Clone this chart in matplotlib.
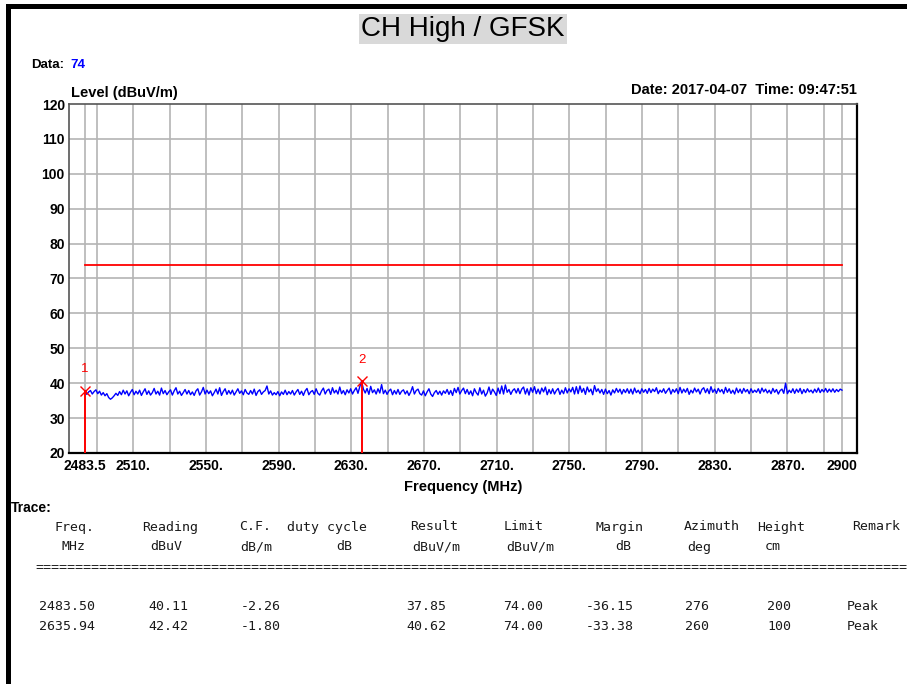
import numpy as np
import matplotlib
matplotlib.use("Agg")
import matplotlib.pyplot as plt
from matplotlib.patches import Rectangle

# --- chart data ---
level = [
    37.85, 36.8, 37.5, 37.9, 36.9, 37.6, 38.1, 37.0, 37.7, 36.6,
    37.3, 36.4, 37.0, 35.9, 35.4, 35.8, 36.4, 37.1, 36.5, 37.6,
    36.7, 38.0, 36.9, 37.8, 36.4, 37.4, 38.2, 36.7, 37.7, 36.9,
    38.0, 36.5, 37.5, 38.4, 36.8, 37.8, 36.6, 37.3, 38.5, 36.9,
    37.7, 36.6, 38.6, 37.0, 37.9, 36.7, 37.5, 38.1, 36.6, 37.8,
    38.7, 36.9, 37.7, 36.5, 37.3, 38.2, 36.9, 37.9, 36.7, 37.5,
    36.5, 37.8, 38.4, 36.6, 37.5, 38.8, 36.9, 38.0, 37.0, 37.8,
    36.4, 37.3, 38.3, 36.9, 38.7, 36.5, 37.6, 38.4, 36.8, 37.9,
    36.9, 38.0, 36.6, 37.5, 38.4, 37.1, 37.8, 36.7, 38.2, 37.2,
    36.8, 37.9, 36.9, 38.3, 36.5, 37.6, 38.1, 36.8, 37.5, 37.9,
    39.2, 36.9, 37.8, 36.6, 37.3, 36.7, 37.6, 36.4, 37.5, 36.8,
    38.0, 36.7, 37.6, 36.9, 37.9, 36.6, 37.5, 38.2, 36.8, 37.7,
    36.5, 37.8, 38.5, 36.7, 37.5, 37.9, 36.8, 38.4, 37.1, 36.6,
    37.8, 38.6, 36.9, 37.9, 38.3, 36.8, 38.7, 37.2, 38.0, 36.9,
    38.9, 37.0, 37.9, 36.7, 38.1, 37.2, 38.4, 36.9, 37.9, 38.7,
    37.1, 39.0, 40.6, 38.3, 37.2, 38.5, 36.8, 39.1, 37.3, 38.1,
    36.9, 38.4, 37.2, 39.6, 37.0, 38.0, 36.8, 37.8, 38.3, 36.7,
    37.9, 36.9, 38.2, 36.8, 37.7, 38.1, 36.9, 37.8, 36.5, 37.5,
    39.0, 36.9, 37.9, 38.3, 37.0, 36.6, 37.8, 36.4, 37.5, 38.4,
    36.9, 36.2, 37.3, 37.9, 36.8, 37.7, 36.6, 37.8, 37.1, 38.2,
    36.8, 37.9, 36.5, 38.5, 37.3, 38.8, 36.9, 37.9, 38.6, 37.0,
    38.2, 36.8, 37.8, 36.4, 38.4, 37.3, 36.6, 38.7, 36.9, 38.0,
    36.3, 37.2, 38.9, 36.8, 38.3, 37.5, 36.5, 38.6, 37.0, 39.2,
    36.9, 39.5, 37.4, 38.2, 36.8, 37.9, 38.4, 37.2, 38.5, 37.0,
    38.3, 38.9, 36.9, 38.4, 36.6, 38.7, 37.4, 39.0, 37.0, 38.3,
    36.9, 38.6, 37.5, 38.9, 36.7, 38.2, 37.0, 38.4, 36.9, 37.9,
    38.5, 36.8, 38.0, 37.0, 38.7, 37.2, 38.4, 37.5, 38.8, 36.9,
    39.0, 37.0, 39.2, 37.4, 38.5, 36.8, 38.9, 37.5, 38.3, 36.7,
    39.3, 37.6, 38.4, 37.2, 38.2, 36.8, 38.3, 37.0, 37.9, 36.6,
    38.1, 37.2, 38.5, 37.4, 38.3, 36.9, 38.2, 37.3, 38.4, 37.1,
    38.3, 36.9, 38.6, 37.3, 38.0, 37.0, 38.4, 37.4, 38.2, 37.1,
    38.5, 37.3, 38.3, 37.6, 38.7, 37.0, 38.0, 37.4, 38.4, 37.1,
    37.9, 38.6, 36.9, 38.2, 37.4, 38.4, 37.0, 38.8, 37.2, 38.3,
    37.4, 38.5, 36.8, 38.0, 37.2, 38.6, 37.5, 38.3, 36.9, 38.2,
    38.7, 37.3, 38.4, 37.0, 39.0, 37.4, 38.3, 37.1, 38.5, 37.5,
    38.2, 37.0, 38.8, 37.4, 38.4, 37.1, 38.0, 36.9, 38.6, 37.3,
    38.3, 37.1, 38.5, 37.5, 38.2, 37.0, 38.4, 37.3, 38.0, 37.4,
    38.4, 37.1, 38.6, 37.5, 38.3, 37.2, 38.0, 37.0, 38.5, 37.4,
    38.2, 36.9, 37.9, 38.3, 37.1, 40.0, 37.0, 38.0, 37.3, 38.4,
    37.1, 38.3, 37.4, 38.5, 37.0, 38.2, 37.3, 38.4, 37.5, 38.0,
    37.2, 38.3, 37.4, 38.6, 37.3, 38.2, 37.5, 38.5, 37.4, 38.3,
    37.5, 38.4, 37.4, 38.2, 37.6, 38.3, 38.0,
]
freq_start, freq_stop = 2483.5, 2900.0
freq = np.linspace(freq_start, freq_stop, len(level))

limit = 74.0
marker_freq = [2483.50, 2635.94]
marker_level = [37.85, 40.62]
marker_names = ["1", "2"]

xtick_pos = [2483.5, 2510, 2550, 2590, 2630, 2670, 2710, 2750, 2790, 2830, 2870, 2900]
xtick_lbl = ["2483.5", "2510.", "2550.", "2590.", "2630.", "2670.", "2710.",
             "2750.", "2790.", "2830.", "2870.", "2900"]
xgrid_pos = [2483.5, 2490] + list(range(2510, 2900, 20)) + [2900]
ytick_pos = list(range(20, 121, 10))

table_head1 = ["Freq.", "Reading", "C.F.", "duty cycle", "Result", "Limit",
               "Margin", "Azimuth", "Height", "Remark"]
table_head2 = ["MHz", "dBuV", "dB/m", "dB", "dBuV/m", "dBuV/m", "dB", "deg", "cm", ""]
table_rows = [
    ["2483.50", "40.11", "-2.26", "", "37.85", "74.00", "-36.15", "276", "200", "Peak"],
    ["2635.94", "42.42", "-1.80", "", "40.62", "74.00", "-33.38", "260", "100", "Peak"],
]

W, H = 907, 684


def px(x, y):
    """pixel position -> figure fraction"""
    return x / W, 1 - y / H


fig = plt.figure(figsize=(W / 100, H / 100), dpi=100)
fig.patch.set_facecolor("white")

# black page frame (left and top)
fig.add_artist(Rectangle(px(6, 684), 5 / W, 680 / H, transform=fig.transFigure,
                         color="black", lw=0))
fig.add_artist(Rectangle(px(6, 9), (W - 6) / W, 5 / H, transform=fig.transFigure,
                         color="black", lw=0))

# title with grey background
fig.text(*px(463, 29), "CH High / GFSK", ha="center", va="center",
         fontsize=20, family="Liberation Sans", color="black",
         bbox=dict(facecolor="#d9d9d9", edgecolor="none", pad=1.5))

bold = dict(family="Liberation Sans", fontweight="bold", color="black")
fig.text(*px(31, 65), "Data:", ha="left", va="center", fontsize=9.5, **bold)
fig.text(*px(70, 65), "74", ha="left", va="center", fontsize=9.5,
         family="Liberation Sans", fontweight="bold", color="#0000ff")
fig.text(*px(71, 93), "Level (dBuV/m)", ha="left", va="center", fontsize=10.5, **bold)
fig.text(*px(857, 90), "Date: 2017-04-07  Time: 09:47:51", ha="right", va="center",
         fontsize=10.5, **bold)
fig.text(*px(463, 487), "Frequency (MHz)", ha="center", va="center", fontsize=10.5, **bold)
fig.text(*px(11, 508), "Trace:", ha="left", va="center", fontsize=10, **bold)

# --- plot area ---
ax_l, ax_r, ax_t, ax_b = 69, 857, 104, 453
ax = fig.add_axes([ax_l / W, 1 - ax_b / H, (ax_r - ax_l) / W, (ax_b - ax_t) / H])
scale = (842 - 85) / (freq_stop - freq_start)
ax.set_xlim(freq_start - (85 - ax_l) / scale, freq_stop + (ax_r - 842) / scale)
ax.set_ylim(20, 120)

ax.set_xticks(xtick_pos)
ax.set_xticklabels(xtick_lbl)
ax.set_yticks(ytick_pos)
ax.tick_params(which="both", length=0)
ax.tick_params(axis="x", pad=4)
ax.tick_params(axis="y", pad=3)
for lab in ax.get_xticklabels() + ax.get_yticklabels():
    lab.set_fontfamily("Liberation Sans")
    lab.set_fontweight("bold")
    lab.set_fontsize(10)

# grid drawn line by line (minor ticks would drop the labelled positions)
for gx in xgrid_pos:
    ax.axvline(gx, color="#b4b4b4", lw=1.2, zorder=1)
for gy in ytick_pos[1:-1]:
    ax.axhline(gy, color="#b4b4b4", lw=1.2, zorder=1)

for side in ["left", "top"]:
    ax.spines[side].set_color("#555555")
    ax.spines[side].set_linewidth(1.2)
for side in ["right", "bottom"]:
    ax.spines[side].set_color("black")
    ax.spines[side].set_linewidth(1.6)

# limit line
ax.plot([freq_start, freq_stop], [limit, limit], color="#ff0000", lw=1.3, zorder=3)
# measured trace
ax.plot(freq, level, color="#0000ff", lw=1.0, zorder=4)

# markers
for f, v, name in zip(marker_freq, marker_level, marker_names):
    ax.vlines(f, 20, v, color="#ff0000", lw=1.4, zorder=5)
    ax.plot(f, v, "x", color="#ff0000", ms=7, mew=1.0, zorder=6)
    ax.annotate(name, (f, v), xytext=(0, 11), textcoords="offset points",
                ha="center", va="bottom", color="#ff0000", fontsize=9.5,
                family="Liberation Sans")

# --- trace table ---
mono = dict(family="DejaVu Sans Mono", fontsize=9.5, color="#1a1a1a")
head_x = [74, 170, 255, 327, 434, 524, 620, 712, 781, 876]
head2_x = [74, 166, 256, 344, 436, 530, 623, 699, 773, 876]
row_x = [67, 168, 261, 327, 426, 523, 610, 697, 779, 863]
for txt, x in zip(table_head1, head_x):
    fig.text(*px(x, 527), txt, ha="center", va="center", **mono)
for txt, x in zip(table_head2, head2_x):
    fig.text(*px(x, 547), txt, ha="center", va="center", **mono)
fig.text(*px(35, 568), "=" * 109, ha="left", va="center", **mono)
for row, y in zip(table_rows, [607, 627]):
    for txt, x in zip(row, row_x):
        fig.text(*px(x, y), txt, ha="center", va="center", **mono)

fig.savefig("out.png", dpi=100)
